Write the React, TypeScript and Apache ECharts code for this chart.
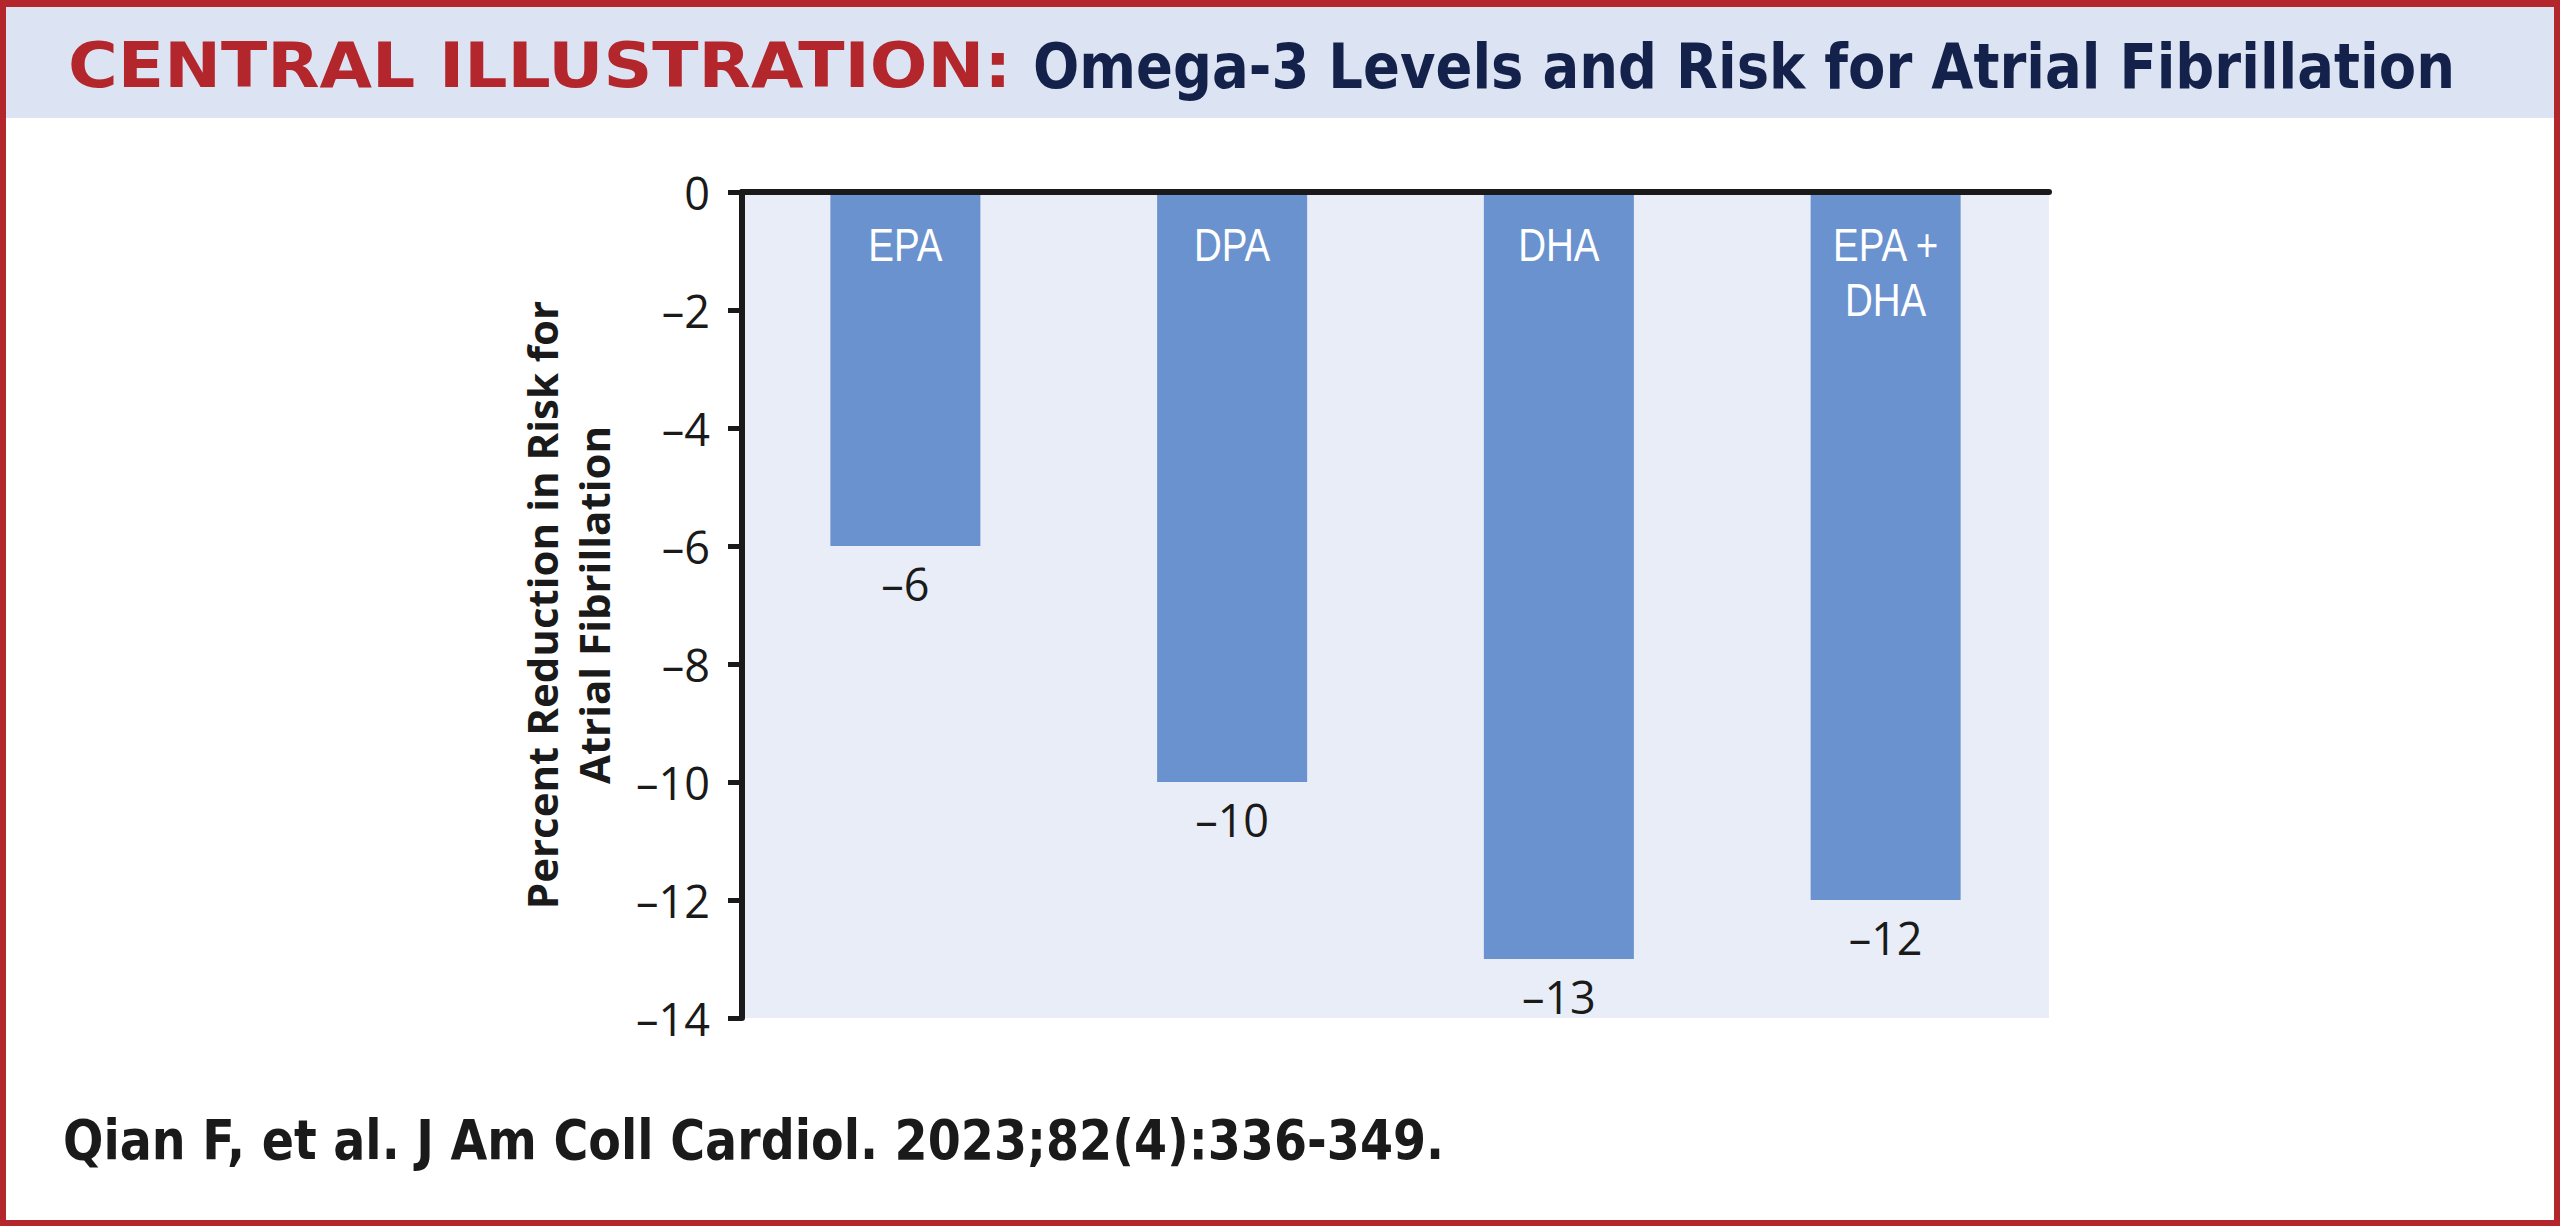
import React, { useEffect, useRef } from "react";
import * as echarts from "echarts";

const categories = ["EPA", "DPA", "DHA", "EPA + DHA"];
const barNames = ["EPA", "DPA", "DHA", "EPA +\nDHA"];
const reductions = [-6, -10, -13, -12];
const yMin = -14;
const yMax = 0;
const yStep = 2;
const titleLead = "CENTRAL ILLUSTRATION:";
const titleMain = "Omega-3 Levels and Risk for Atrial Fibrillation";
const yAxisTitle = "Percent Reduction in Risk for\nAtrial Fibrillation";
const citation = "Qian F, et al. J Am Coll Cardiol. 2023;82(4):336-349.";

const RED = "#b3262c";
const NAVY = "#14214b";
const BAR = "#6a92ce";
const PLOT_BG = "#e8edf7";
const BAND = "#dce3f3";
const INK = "#1a1a1a";

const dash = (v: number | string) => String(v).replace("-", "\u2013");

export default function App() {
  const ref = useRef<HTMLDivElement>(null);
  useEffect(() => {
    if (!ref.current) return;
    const chart = echarts.init(ref.current, undefined, { renderer: "svg" });
    chart.setOption({
      animation: false,
      backgroundColor: "#ffffff",
      graphic: [
        { type: "rect", z: 0, shape: { x: 0, y: 0, width: 2560, height: 118 }, style: { fill: BAND } },
        { type: "rect", z: 10, shape: { x: 3, y: 3, width: 2554, height: 1220 }, style: { fill: "none", stroke: RED, lineWidth: 6 } },
        { type: "rect", z: 10, shape: { x: 0, y: 0, width: 2560, height: 7 }, style: { fill: RED } },
        {
          type: "text", z: 5, x: 68, y: 66, scaleX: 1.095,
          style: { text: titleLead, fill: RED, font: "bold 62px 'DejaVu Sans'", align: "left", verticalAlign: "middle" },
        },
        {
          type: "text", z: 5, x: 1033, y: 66, scaleX: 0.865,
          style: { text: titleMain, fill: NAVY, font: "bold 63px 'DejaVu Sans'", align: "left", verticalAlign: "middle" },
        },
        {
          type: "text", z: 5, x: 63, y: 1140, scaleX: 0.865,
          style: { text: citation, fill: INK, font: "bold 55px 'DejaVu Sans'", align: "left", verticalAlign: "middle" },
        },
      ],
      grid: {
        left: 742, right: 511, top: 192, bottom: 208,
        show: true, backgroundColor: PLOT_BG, borderWidth: 0,
      },
      xAxis: {
        type: "category",
        data: categories,
        z: 5,
        axisLine: { show: true, lineStyle: { color: INK, width: 6 } },
        axisTick: { show: false },
        axisLabel: { show: false },
        splitLine: { show: false },
      },
      yAxis: {
        type: "value",
        min: yMin, max: yMax, interval: yStep,
        z: 5,
        name: yAxisTitle,
        nameLocation: "middle",
        nameRotate: 90,
        nameGap: 123,
        nameTextStyle: { fontFamily: "'Open Sans'", fontWeight: "bold", fontSize: 42, lineHeight: 52, color: INK, align: "center" },
        axisLine: { show: true, lineStyle: { color: INK, width: 6 } },
        axisTick: { show: true, length: 14, lineStyle: { color: INK, width: 5 } },
        axisLabel: { margin: 32, fontFamily: "'Open Sans'", fontSize: 45, color: INK, formatter: (v: number) => dash(v) },
        splitLine: { show: false },
      },
      series: [
        {
          type: "bar",
          data: reductions,
          barWidth: 150,
          itemStyle: { color: BAR },
          label: {
            show: true, position: "bottom", distance: 15,
            formatter: (p: any) => dash(p.value),
            color: INK,
            fontFamily: "'Open Sans'",
            fontSize: 45,
          },
          z: 2,
        },
        {
          type: "custom",
          data: reductions.map((v, i) => [i, v]),
          z: 4,
          silent: true,
          renderItem: (params: any, api: any) => {
            const p = api.coord([api.value(0), 0]);
            return {
              type: "text",
              x: p[0],
              y: p[1] + 25,
              scaleX: 0.82,
              style: {
                text: barNames[params.dataIndex],
                fill: "#ffffff",
                font: "47px 'Liberation Sans'",
                align: "center",
                verticalAlign: "top",
                lineHeight: 55,
              },
            };
          },
        },
      ],
    });
    return () => chart.dispose();
  }, []);
  return <div ref={ref} style={{ position: "fixed", left: 0, top: 0, width: 2560, height: 1226 }} />;
}
